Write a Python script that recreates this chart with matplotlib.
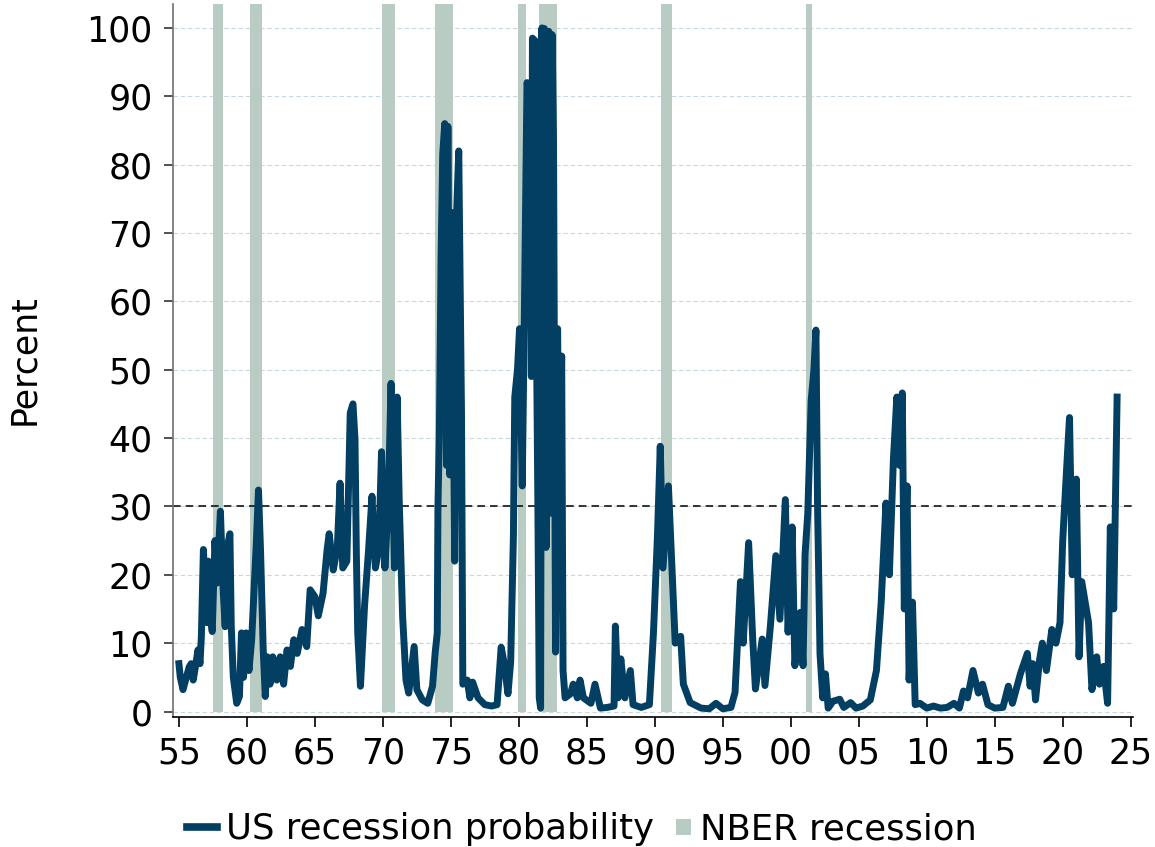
import numpy as np
import matplotlib
matplotlib.use('Agg')
import matplotlib.pyplot as plt
import matplotlib.patches as mpatches
from matplotlib.lines import Line2D
from matplotlib.legend_handler import HandlerPatch

#Recession probability (decimal year, percent)
years = [1955.00, 1955.10, 1955.30, 1955.55, 1955.75, 1955.90, 1956.05, 1956.25, 1956.40, 1956.55,
         1956.65, 1956.80, 1956.95, 1957.05, 1957.15, 1957.30, 1957.45, 1957.65, 1957.80, 1958.05,
         1958.25, 1958.40, 1958.55, 1958.75, 1958.85, 1959.00, 1959.25, 1959.45, 1959.60, 1959.75,
         1959.95, 1960.15, 1960.35, 1960.55, 1960.70, 1960.85, 1961.00, 1961.20, 1961.35, 1961.50,
         1961.70, 1961.90, 1962.20, 1962.45, 1962.70, 1962.95, 1963.20, 1963.45, 1963.70, 1964.05,
         1964.40, 1964.65, 1965.00, 1965.25, 1965.60, 1965.90, 1966.05, 1966.35, 1966.65, 1966.85,
         1967.05, 1967.35, 1967.60, 1967.80, 1967.95, 1968.05, 1968.15, 1968.35, 1968.65, 1968.95,
         1969.20, 1969.45, 1969.70, 1969.90, 1970.15, 1970.40, 1970.60, 1970.85, 1971.05, 1971.20,
         1971.45, 1971.70, 1971.90, 1972.30, 1972.50, 1972.90, 1973.30, 1973.65, 1973.85, 1974.00,
         1974.05, 1974.15, 1974.28, 1974.40, 1974.55, 1974.68, 1974.78, 1974.92, 1975.07, 1975.28,
         1975.44, 1975.58, 1975.78, 1975.88, 1976.20, 1976.40, 1976.60, 1977.00, 1977.50, 1978.00,
         1978.40, 1978.70, 1978.90, 1979.20, 1979.40, 1979.60, 1979.70, 1979.90, 1980.05, 1980.25,
         1980.40, 1980.60, 1980.85, 1980.92, 1981.00, 1981.25, 1981.32, 1981.40, 1981.50, 1981.60,
         1981.70, 1981.78, 1981.88, 1982.00, 1982.20, 1982.30, 1982.45, 1982.55, 1982.70, 1982.85,
         1983.00, 1983.15, 1983.25, 1983.40, 1983.80, 1984.00, 1984.30, 1984.50, 1984.75, 1985.30,
         1985.60, 1986.00, 1986.50, 1987.00, 1987.10, 1987.30, 1987.50, 1987.80, 1988.20, 1988.40,
         1989.00, 1989.60, 1989.90, 1990.20, 1990.40, 1990.60, 1991.00, 1991.30, 1991.50, 1991.90,
         1992.10, 1992.60, 1993.40, 1994.00, 1994.50, 1995.00, 1995.60, 1995.90, 1996.30, 1996.50,
         1996.90, 1997.20, 1997.40, 1997.90, 1998.10, 1998.50, 1998.90, 1999.20, 1999.60, 1999.80,
         2000.10, 2000.30, 2000.70, 2000.90, 2001.05, 2001.25, 2001.50, 2001.70, 2001.85, 2001.97,
         2002.15, 2002.35, 2002.55, 2002.75, 2003.10, 2003.60, 2003.90, 2004.40, 2004.80, 2005.30,
         2005.85, 2006.30, 2006.65, 2007.00, 2007.25, 2007.55, 2007.80, 2008.00, 2008.20, 2008.35,
         2008.55, 2008.70, 2008.95, 2009.15, 2009.50, 2010.00, 2010.50, 2011.00, 2011.50, 2012.00,
         2012.40, 2012.70, 2013.00, 2013.40, 2013.80, 2014.10, 2014.50, 2015.00, 2015.60, 2016.00,
         2016.30, 2016.90, 2017.40, 2017.60, 2017.80, 2018.00, 2018.30, 2018.50, 2018.80, 2019.20,
         2019.50, 2019.80, 2020.00, 2020.30, 2020.50, 2020.70, 2021.00, 2021.20, 2021.40, 2021.90,
         2022.15, 2022.50, 2022.70, 2023.00, 2023.30, 2023.50, 2023.75, 2024.00]
prob = [7.0, 5.0, 3.2, 5.0, 6.5, 7.0, 4.6, 7.0, 9.0, 7.0,
        11.0, 23.7, 17.0, 13.0, 22.0, 14.0, 11.7, 25.0, 18.8, 29.3,
        17.8, 12.4, 24.0, 26.0, 12.4, 5.0, 1.2, 2.2, 11.5, 5.0,
        11.5, 6.0, 10.5, 18.8, 25.0, 32.4, 23.7, 9.0, 2.2, 8.0,
        4.0, 8.0, 4.6, 8.0, 4.0, 9.0, 6.6, 10.5, 8.5, 12.0,
        9.5, 17.8, 16.8, 14.0, 17.3, 23.7, 26.0, 20.7, 24.0, 33.4,
        21.0, 22.0, 43.7, 45.0, 39.8, 23.0, 11.5, 3.7, 15.4, 23.7,
        31.5, 21.0, 23.7, 38.0, 21.0, 31.0, 48.0, 21.0, 46.0, 31.0,
        14.0, 4.6, 2.7, 9.5, 3.2, 1.7, 1.2, 3.7, 8.7, 11.5,
        30.0, 40.0, 66.5, 81.5, 86.0, 36.0, 85.6, 34.6, 73.0, 22.0,
        74.0, 82.0, 44.0, 4.0, 4.6, 2.0, 4.3, 2.0, 1.0, 0.8,
        1.0, 9.4, 7.3, 2.6, 7.3, 25.7, 46.0, 50.0, 56.0, 33.0,
        57.0, 92.0, 90.0, 49.0, 98.5, 98.0, 49.0, 30.0, 2.0, 0.5,
        100.0, 40.0, 99.9, 24.0, 99.5, 29.0, 99.0, 83.5, 8.7, 56.0,
        25.0, 52.0, 6.0, 2.0, 2.6, 4.0, 2.0, 4.6, 2.0, 1.2,
        4.0, 0.5, 0.6, 0.8, 12.5, 2.0, 7.7, 2.0, 6.0, 1.0,
        0.6, 1.0, 11.5, 26.0, 38.8, 21.0, 33.0, 19.0, 10.0, 11.0,
        4.0, 1.3, 0.5, 0.4, 1.2, 0.4, 0.6, 2.8, 19.0, 10.0,
        24.7, 10.6, 3.3, 10.6, 3.8, 12.5, 22.8, 13.5, 31.0, 11.6,
        27.0, 6.7, 14.5, 6.7, 23.0, 29.0, 45.5, 50.0, 55.8, 30.0,
        8.4, 2.0, 5.5, 0.5, 1.5, 1.8, 0.6, 1.3, 0.5, 0.8,
        1.7, 6.0, 16.0, 30.5, 20.0, 37.0, 46.0, 36.0, 46.6, 15.0,
        33.0, 4.6, 16.0, 1.0, 1.2, 0.5, 0.8, 0.5, 0.6, 1.2,
        0.5, 3.0, 2.0, 6.0, 2.7, 4.0, 1.0, 0.5, 0.6, 3.7,
        1.2, 5.6, 8.5, 3.7, 7.0, 1.7, 7.6, 10.0, 6.0, 12.0,
        10.0, 13.0, 25.0, 36.0, 43.0, 20.0, 34.0, 8.0, 19.0, 13.0,
        3.2, 8.0, 4.0, 6.6, 1.2, 27.0, 15.0, 46.0]

#NBER recession bands as drawn on the chart
rec_start = [1957.52, 1960.22, 1969.90, 1973.82, 1979.95, 1981.50, 1990.49, 2001.15]
rec_end = [1958.26, 1961.12, 1970.88, 1975.17, 1980.51, 1982.80, 1991.23, 2001.57]

#Axis ticks
xticks = [1955, 1960, 1965, 1970, 1975, 1980, 1985, 1990, 1995, 2000, 2005, 2010, 2015, 2020, 2025]
xticklabels = ['55', '60', '65', '70', '75', '80', '85', '90', '95', '00', '05', '10', '15', '20', '25']
yticks = [0, 10, 20, 30, 40, 50, 60, 70, 80, 90, 100]
threshold = 30

lineColor = '#023f62'
shadeColor = '#b9ccc4'
gridColor = '#c9d8de'

fig = plt.figure(figsize=(11.55, 8.47), dpi=100)
ax = fig.add_axes([0.1495, 0.1535, 0.8317, 0.8418])

ymin, ymax = -0.8, 103.5
ax.set_xlim(1954.54, 2025.19)
ax.set_ylim(ymin, ymax)

#Grid lines
for yv in yticks:
    ax.axhline(yv, color=gridColor, lw=0.8, dashes=(4, 2.5), zorder=0)

#Recession shading from zero up to the top
shadeBottom = (0 - ymin) / (ymax - ymin)
for s, e in zip(rec_start, rec_end):
    ax.axvspan(s, e, ymin=shadeBottom, ymax=1, color=shadeColor, lw=0, zorder=1)

#30% threshold
ax.axhline(threshold, color='black', lw=1.1, dashes=(5, 3.3), zorder=2)

ax.plot(years, prob, color=lineColor, lw=5.0, solid_joinstyle='round', zorder=3)

ax.set_xticks(xticks)
ax.set_xticklabels(xticklabels)
ax.set_yticks(yticks)
ax.tick_params(axis='both', labelsize=25, direction='out')
ax.tick_params(axis='x', length=7, width=1.2, pad=7)
ax.tick_params(axis='y', length=6.5, width=1.2, pad=8, color='#333333')

ax.spines['top'].set_visible(False)
ax.spines['right'].set_visible(False)
ax.spines['left'].set_color('#707070')
ax.spines['left'].set_linewidth(1.2)
ax.spines['bottom'].set_linewidth(1.2)

fig.text(24 / 1155, 1 - 360 / 847, 'Percent', rotation=90, ha='center', va='center', fontsize=25)

#Small square sitting at the right end of the handle box
def square_patch(legend, orig_handle, xdescent, ydescent, width, height, fontsize):
    size = 0.62 * height
    return mpatches.Rectangle((width - size - xdescent, -ydescent + (height - size) / 2), size, size)

handles = [Line2D([], [], color=lineColor, lw=5.5),
           mpatches.Patch(color=shadeColor, lw=0)]
fig.legend(handles, ['US recession probability', 'NBER recession'], loc='center',
           bbox_to_anchor=(0.504, 0.021), ncol=2, frameon=False, fontsize=25.5,
           handlelength=0.85, handletextpad=0.25, columnspacing=0.2,
           handler_map={mpatches.Patch: HandlerPatch(patch_func=square_patch)})

fig.savefig('out.png', dpi=100)
